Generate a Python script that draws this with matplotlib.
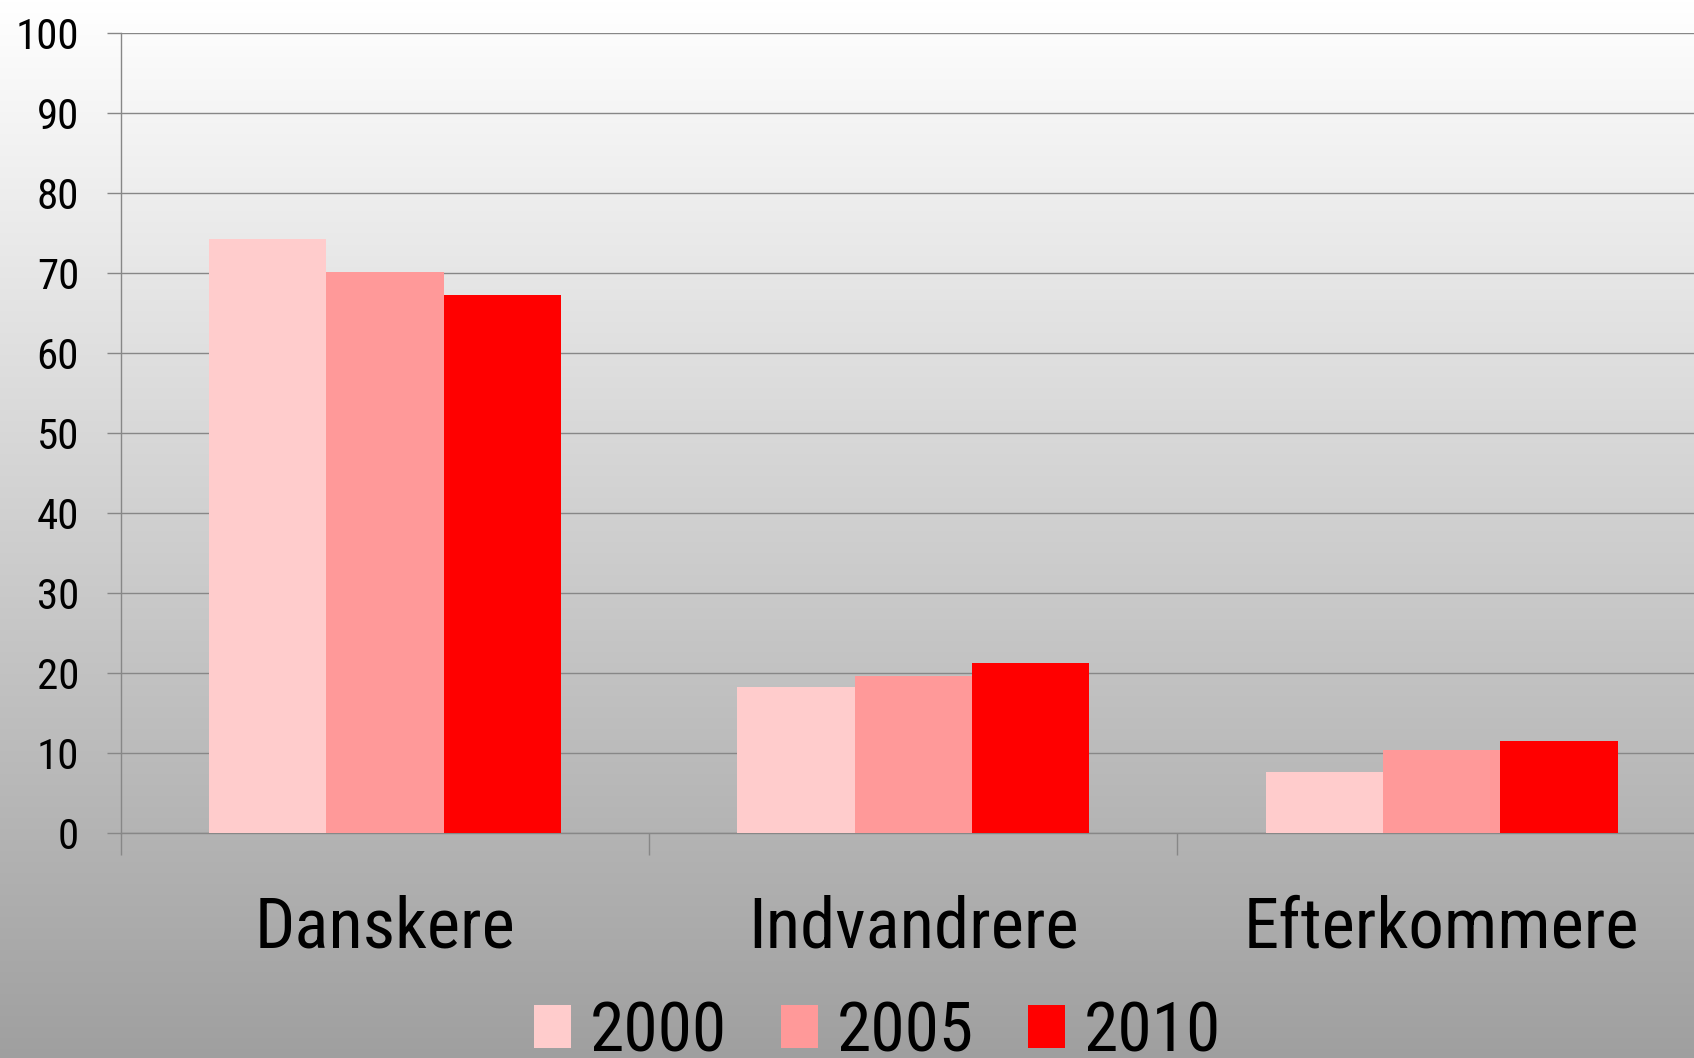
import numpy as np
import matplotlib
matplotlib.use("Agg")
import matplotlib.pyplot as plt
from matplotlib.patches import Patch
import matplotlib.transforms as mtransforms

categories = ["Danskere", "Indvandrere", "Efterkommere"]
years = ["2000", "2005", "2010"]
values_2000 = [74.2, 18.2, 7.6]
values_2005 = [70.1, 19.6, 10.4]
values_2010 = [67.2, 21.2, 11.5]
yticks = [0, 10, 20, 30, 40, 50, 60, 70, 80, 90, 100]
colors = ["#FFCCCC", "#FF9999", "#FF0000"]

FONT = ["Roboto Condensed", "Roboto", "DejaVu Sans"]
plt.rcParams["font.family"] = FONT

W, H = 1694, 1058
fig = plt.figure(figsize=(W / 100, H / 100), dpi=100)

# background gradient
bg = fig.add_axes([0, 0, 1, 1], zorder=-10)
grad = np.linspace(1.0, 0.625, 256).reshape(-1, 1)
bg.imshow(np.dstack([grad, grad, grad]), aspect="auto", extent=[0, 1, 0, 1],
          interpolation="bilinear")
bg.set_axis_off()

left = 120.7 / W
right_px = 120.7 + 3 * 528.4
bottom = (H - 833) / H
height = 800 / H
ax = fig.add_axes([left, bottom, (right_px - 120.7) / W, height])
ax.patch.set_alpha(0)

series = [values_2000, values_2005, values_2010]
bw = 1 / 4.5
x = np.arange(len(categories)) + 0.5
for i, (vals, c) in enumerate(zip(series, colors)):
    ax.bar(x + (i - 1) * bw, vals, width=bw, color=c, edgecolor="none", zorder=3,
           label=years[i])

ax.set_xlim(0, 3)
ax.set_ylim(0, 100)
grid_c = "#878787"
ax.set_yticks(yticks)
ax.set_yticklabels([str(v) for v in yticks])
ax.yaxis.grid(True, color=grid_c, linewidth=1.0, zorder=1)
ax.set_axisbelow(True)
ax.tick_params(axis="y", length=10, width=1.0, color=grid_c, pad=20,
               labelsize=31, labelcolor="black")
ax.set_xticks([0, 1, 2, 3])
ax.set_xticklabels([])
ax.tick_params(axis="x", length=16, width=1.0, color=grid_c)
for s in ["top", "right"]:
    ax.spines[s].set_visible(False)
for s in ["left", "bottom"]:
    ax.spines[s].set_color(grid_c)
    ax.spines[s].set_linewidth(1.0)

trans = mtransforms.blended_transform_factory(ax.transData, fig.transFigure)
for xi, cat in zip(x, categories):
    ax.text(xi, (H - 947) / H, cat, transform=trans, ha="center", va="baseline",
            fontsize=51, color="black")

handles = [Patch(facecolor=c, edgecolor="none") for c in colors]
fig.legend(handles, years, loc="center", bbox_to_anchor=(0.518, 26 / H),
           ncol=3, frameon=False, fontsize=50, handlelength=0.53,
           handleheight=0.56, handletextpad=0.27, columnspacing=0.78,
           borderpad=0, borderaxespad=0)

fig.savefig("out.png", dpi=100)
